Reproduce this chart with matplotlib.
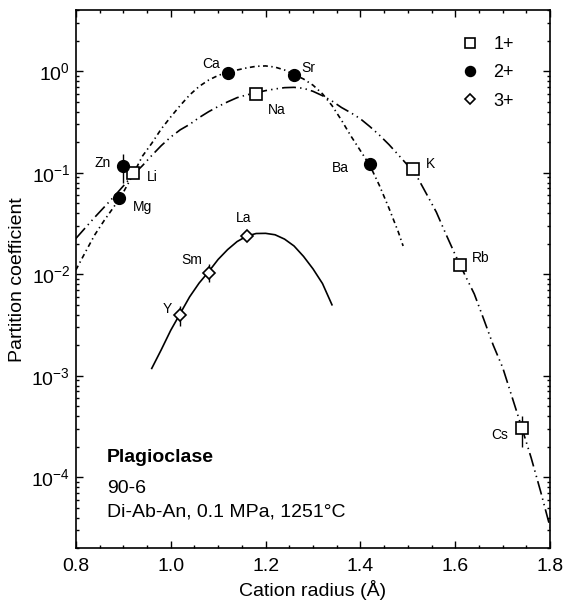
import numpy as np
import matplotlib.pyplot as plt
from matplotlib.ticker import MultipleLocator, LogLocator, NullFormatter

plt.rcParams['font.family'] = ['Liberation Sans', 'DejaVu Sans']
plt.rcParams['mathtext.fontset'] = 'custom'
plt.rcParams['mathtext.rm'] = 'Liberation Sans'
plt.rcParams['mathtext.it'] = 'Liberation Sans:italic'
plt.rcParams['mathtext.bf'] = 'Liberation Sans:bold'
plt.rcParams['lines.scale_dashes'] = False

ions_1 = ['Li', 'Na', 'K', 'Rb', 'Cs']
r_1 = [0.92, 1.18, 1.51, 1.61, 1.74]
d_1 = [0.10, 0.60, 0.108, 0.0123, 3.05e-4]

ions_2 = ['Mg', 'Zn', 'Ca', 'Sr', 'Ba']
r_2 = [0.89, 0.90, 1.12, 1.26, 1.42]
d_2 = [0.057, 0.116, 0.955, 0.92, 0.123]

ions_3 = ['Y', 'Sm', 'La']
r_3 = [1.02, 1.08, 1.16]
d_3 = [0.0040, 0.0104, 0.0238]

# error bars (low, high)
err_r = [0.90, 1.02, 1.08, 1.74]
err_d = [0.116, 0.0040, 0.0104, 3.05e-4]
err_lo = [0.080, 0.0031, 0.0083, 2.0e-4]
err_hi = [0.152, 0.0049, 0.0125, 4.0e-4]

# fitted lattice-strain curves
fit1_r = [0.80, 0.82, 0.84, 0.86, 0.88, 0.90, 0.92, 0.94, 0.96, 0.98, 1.00, 1.02,
          1.04, 1.06, 1.08, 1.10, 1.12, 1.14, 1.16, 1.18, 1.20, 1.22, 1.24, 1.26,
          1.28, 1.30, 1.32, 1.34, 1.36, 1.38, 1.40, 1.42, 1.44, 1.46, 1.48, 1.50,
          1.52, 1.54, 1.56, 1.58, 1.60, 1.62, 1.64, 1.66, 1.68, 1.70, 1.72, 1.74,
          1.76, 1.78, 1.80]
fit1_d = [0.0225, 0.0287, 0.0365, 0.046, 0.058, 0.074, 0.095, 0.117, 0.148, 0.185,
          0.225, 0.265, 0.30, 0.35, 0.40, 0.45, 0.50, 0.55, 0.585, 0.615, 0.645,
          0.67, 0.69, 0.695, 0.68, 0.635, 0.575, 0.51, 0.44, 0.39, 0.34, 0.285,
          0.235, 0.19, 0.15, 0.118, 0.0905, 0.061, 0.041, 0.025, 0.0155, 0.0099,
          0.0064, 0.0036, 0.0020, 0.00120, 0.00061, 0.00031, 0.000155, 0.000072,
          0.000032]

fit2_r = [0.80, 0.82, 0.84, 0.86, 0.88, 0.90, 0.92, 0.94, 0.96, 0.98, 1.00, 1.02,
          1.04, 1.06, 1.08, 1.10, 1.12, 1.14, 1.16, 1.18, 1.20, 1.22, 1.24, 1.26,
          1.28, 1.30, 1.32, 1.34, 1.36, 1.38, 1.40, 1.42, 1.44, 1.46, 1.48, 1.49]
fit2_d = [0.0110, 0.0165, 0.0245, 0.034, 0.046, 0.064, 0.095, 0.145, 0.195, 0.27,
          0.355, 0.46, 0.585, 0.71, 0.82, 0.91, 0.98, 1.03, 1.08, 1.12, 1.13, 1.10,
          1.03, 0.93, 0.84, 0.73, 0.60, 0.46, 0.33, 0.23, 0.165, 0.118, 0.075,
          0.045, 0.026, 0.019]

fit3_r = [0.96, 0.98, 1.00, 1.02, 1.04, 1.06, 1.08, 1.10, 1.12, 1.14, 1.16, 1.18,
          1.20, 1.22, 1.24, 1.26, 1.28, 1.30, 1.32, 1.34]
fit3_d = [0.00118, 0.00180, 0.0028, 0.0041, 0.0060, 0.0082, 0.0106, 0.0140, 0.0175,
          0.0210, 0.0237, 0.0252, 0.0253, 0.0245, 0.0222, 0.0190, 0.0150, 0.0113,
          0.0081, 0.0050]

# label offsets in points (layout only)
offsets = {'Li': (14, -3), 'Na': (15, -12), 'K': (13, 4), 'Rb': (15, 5), 'Cs': (-16, -5),
           'Mg': (17, -7), 'Zn': (-15, 2), 'Ca': (-12, 7), 'Sr': (10, 5), 'Ba': (-21, -3),
           'Y': (-9, 4), 'Sm': (-12, 9), 'La': (-2, 13)}

fig = plt.figure(figsize=(5.66, 6.01), dpi=100)
ax = fig.add_axes([0.134, 0.088, 0.838, 0.895])

ax.plot(fit1_r, fit1_d, color='black', lw=1.2, ls=(0, (10, 3, 1, 3, 1, 3)), zorder=2)
ax.plot(fit2_r, fit2_d, color='black', lw=1.2, ls=(0, (3.5, 2.5, 1, 2.5)), zorder=2)
ax.plot(fit3_r, fit3_d, color='black', lw=1.2, ls='-', zorder=2)

err = [np.array(err_d) - np.array(err_lo), np.array(err_hi) - np.array(err_d)]
ax.errorbar(err_r, err_d, yerr=err, fmt='none', ecolor='black', elinewidth=1.0,
            capsize=0, zorder=2)

ax.plot(r_1, d_1, ls='none', marker='s', ms=8, mfc='white', mec='black', mew=1.2,
        zorder=3, label='1+')
ax.plot(r_2, d_2, ls='none', marker='o', ms=8.5, mfc='black', mec='black',
        zorder=3, label='2+')
ax.plot(r_3, d_3, ls='none', marker='D', ms=6, mfc='white', mec='black', mew=1.2,
        zorder=3, label='3+')

for names, rr, dd in [(ions_1, r_1, d_1), (ions_2, r_2, d_2), (ions_3, r_3, d_3)]:
    for n, x, y in zip(names, rr, dd):
        ax.annotate(n, (x, y), xytext=offsets[n], textcoords='offset points',
                    ha='center', va='center', fontsize=10)

ax.set_yscale('log')
ax.set_xlim(0.8, 1.8)
ax.set_ylim(2e-5, 4)
ax.xaxis.set_major_locator(MultipleLocator(0.2))
ax.xaxis.set_minor_locator(MultipleLocator(0.05))
ax.xaxis.set_major_formatter(plt.FuncFormatter(lambda v, p: f'{v:.1f}'))
ax.yaxis.set_major_locator(LogLocator(base=10, numticks=10))
ax.yaxis.set_minor_locator(LogLocator(base=10, subs=np.arange(2, 10), numticks=20))
ax.yaxis.set_minor_formatter(NullFormatter())

ax.tick_params(which='both', direction='in', top=True, right=True, labelsize=14,
               width=1.0)
ax.tick_params(which='major', length=5)
ax.tick_params(axis='x', which='major', pad=7)
ax.tick_params(axis='y', which='major', pad=4)
ax.tick_params(which='minor', length=2.5)
for s in ax.spines.values():
    s.set_linewidth(1.2)

ax.set_xlabel('Cation radius (Å)', fontsize=14, labelpad=4)
ax.set_ylabel('Partition coefficient', fontsize=14, labelpad=4)

ax.text(0.065, 0.169, 'Plagioclase', transform=ax.transAxes, fontsize=14,
        fontweight='bold', va='center')
ax.text(0.065, 0.110, '90-6', transform=ax.transAxes, fontsize=14, va='center')
ax.text(0.065, 0.067, 'Di-Ab-An, 0.1 MPa, 1251°C', transform=ax.transAxes,
        fontsize=14, va='center')

ax.legend(loc='upper right', bbox_to_anchor=(0.95, 0.975), frameon=False,
          fontsize=13, handlelength=1.0, handletextpad=0.8, labelspacing=0.62,
          borderpad=0.2, markerscale=0.85)

fig.savefig('out.png', dpi=100)
